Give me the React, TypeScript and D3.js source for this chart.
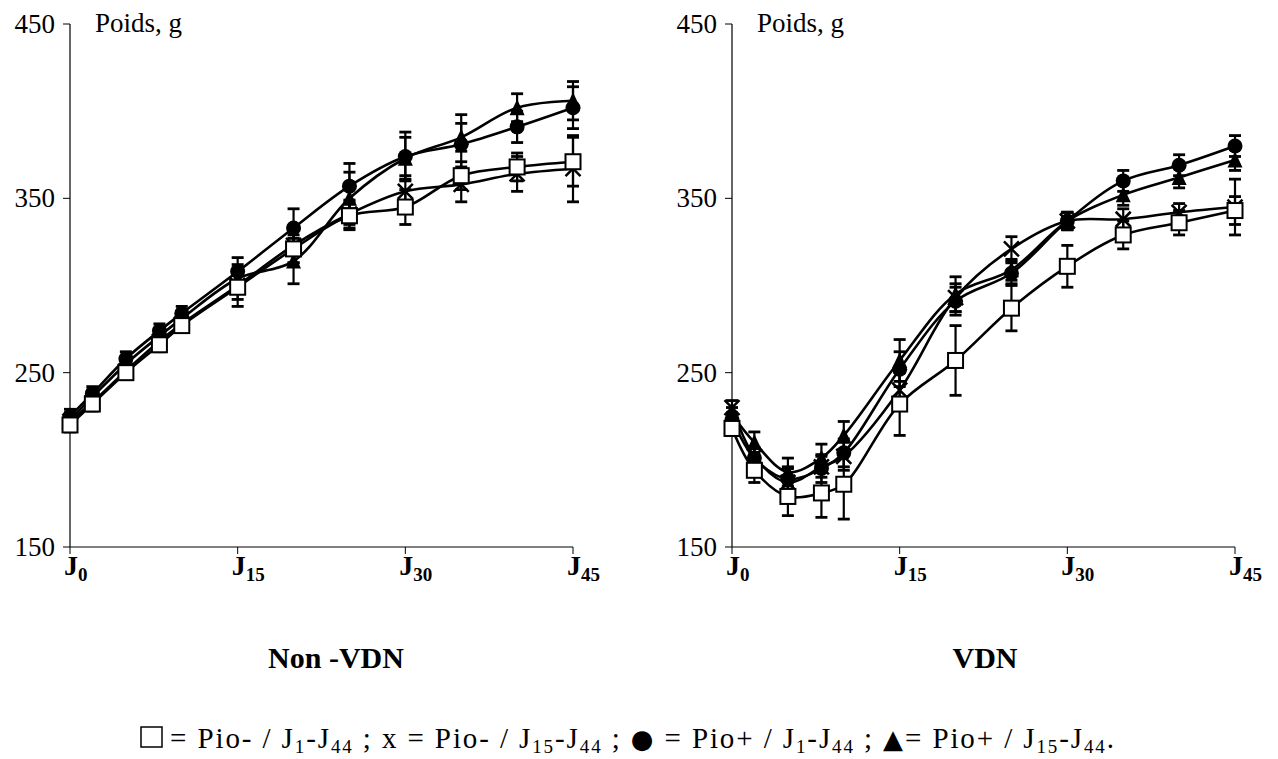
import React from "react";
import * as d3 from "d3";

// days sampled
const days = [0, 2, 5, 8, 10, 15, 20, 25, 30, 35, 40, 45];
const yTicks = [150, 250, 350, 450];
const xTicks = [0, 15, 30, 45];

// Non-VDN
const nvSquare = [220, 232, 250, 266, 277, 299, 321, 340, 345, 363, 368, 371];
const nvCross = [222, 233, 251, 268, 278, 300, 323, 341, 354, 358, 364, 367];
const nvCircle = [225, 238, 258, 274, 284, 308, 333, 357, 374, 381, 391, 402];
const nvTriangle = [223, 236, 255, 271, 281, 304, 314, 350, 373, 385, 402, 406];
const nvSquareErr = [4, 4, 4, 4, 4, 11, 8, 8, 10, 8, 8, 14];
const nvCrossErr = [4, 4, 4, 4, 4, 8, 10, 8, 9, 10, 10, 19];
const nvCircleErr = [4, 4, 4, 4, 4, 8, 11, 13, 14, 17, 9, 12];
const nvTriangleErr = [4, 4, 4, 4, 4, 8, 13, 15, 12, 8, 8, 11];

// VDN
const vSquare = [218, 194, 179, 181, 186, 232, 257, 287, 311, 329, 336, 343];
const vCross = [230, 202, 187, 196, 202, 240, 293, 321, 337, 338, 342, 345];
const vCircle = [223, 201, 189, 195, 204, 252, 291, 307, 337, 360, 369, 380];
const vTriangle = [226, 210, 193, 201, 214, 257, 295, 309, 337, 352, 362, 372];
const vSquareErr = [4, 7, 11, 14, 20, 18, 20, 13, 12, 8, 7, 8];
const vCrossErr = [4, 5, 8, 6, 8, 10, 8, 7, 5, 6, 5, 16];
const vCircleErr = [4, 6, 7, 8, 8, 10, 8, 6, 5, 6, 6, 6];
const vTriangleErr = [4, 6, 8, 8, 8, 12, 10, 6, 5, 6, 6, 6];

const serif = "Liberation Serif, DejaVu Serif, serif";

type Series = { kind: string; values: number[]; err: number[] };

function Marker({ kind, x, y }: { kind: string; x: number; y: number }) {
  const s = 7.5;
  if (kind === "square")
    return <rect x={x - s} y={y - s} width={2 * s} height={2 * s} fill="#fff" stroke="#000" strokeWidth={2} />;
  if (kind === "circle") return <circle cx={x} cy={y} r={s} fill="#000" />;
  if (kind === "triangle")
    return <path d={`M${x},${y - s - 1}L${x + s},${y + s}L${x - s},${y + s}Z`} fill="#000" />;
  return (
    <path d={`M${x - s},${y - s}L${x + s},${y + s}M${x - s},${y + s}L${x + s},${y - s}`} stroke="#000" strokeWidth={2.5} />
  );
}

function Panel({ x0, series, title, titleX }: { x0: number; series: Series[]; title: string; titleX: number }) {
  const x = d3.scaleLinear().domain([0, 45]).range([x0, x0 + 503]);
  const y = d3.scaleLinear().domain([150, 450]).range([547, 24]);
  const line = d3
    .line<number>()
    .x((_, i) => x(days[i]))
    .y((v) => y(v))
    .curve(d3.curveCatmullRom.alpha(0.5));

  return (
    <g style={{ fontFamily: serif }}>
      {/* axes */}
      <line x1={x0} x2={x0} y1={y(450)} y2={y(150)} stroke="#000" strokeWidth={1.2} />
      <line x1={x0} x2={x(45)} y1={y(150)} y2={y(150)} stroke="#000" strokeWidth={1.2} />
      {yTicks.map((t) => (
        <g key={t}>
          <line x1={x0 - 7} x2={x0} y1={y(t)} y2={y(t)} stroke="#000" strokeWidth={1} />
          <text x={x0 - 15} y={y(t) + 9} textAnchor="end" fontSize={27}>
            {t}
          </text>
        </g>
      ))}
      {xTicks.map((t) => (
        <g key={t}>
          <line x1={x(t)} x2={x(t)} y1={y(150)} y2={y(150) + 7} stroke="#000" strokeWidth={1} />
          <text x={x(t) - 6} y={575} fontSize={28} fontWeight="bold">
            J<tspan fontSize={19} dy={6}>{t}</tspan>
          </text>
        </g>
      ))}
      <text x={x0 + 25} y={32} fontSize={27}>
        Poids, g
      </text>

      {/* lines */}
      {series.map((s) => (
        <path key={s.kind} d={line(s.values) || ""} fill="none" stroke="#000" strokeWidth={2.6} />
      ))}
      {/* error bars */}
      {series.map((s) =>
        s.values.map((v, i) => {
          const cx = x(days[i]);
          const top = y(v + s.err[i]);
          const bot = y(v - s.err[i]);
          return (
            <g key={s.kind + i} stroke="#000" strokeWidth={2.2}>
              <line x1={cx} x2={cx} y1={top} y2={bot} />
              <line x1={cx - 6} x2={cx + 6} y1={top} y2={top} strokeWidth={2.8} />
              <line x1={cx - 6} x2={cx + 6} y1={bot} y2={bot} strokeWidth={2.8} />
            </g>
          );
        })
      )}
      {/* markers */}
      {series.map((s) =>
        s.values.map((v, i) => <Marker key={s.kind + "m" + i} kind={s.kind} x={x(days[i])} y={y(v)} />)
      )}

      <text x={titleX} y={668} textAnchor="middle" fontSize={30} fontWeight="bold">
        {title}
      </text>
    </g>
  );
}

export default function App() {
  const left: Series[] = [
    { kind: "triangle", values: nvTriangle, err: nvTriangleErr },
    { kind: "circle", values: nvCircle, err: nvCircleErr },
    { kind: "cross", values: nvCross, err: nvCrossErr },
    { kind: "square", values: nvSquare, err: nvSquareErr },
  ];
  const right: Series[] = [
    { kind: "triangle", values: vTriangle, err: vTriangleErr },
    { kind: "circle", values: vCircle, err: vCircleErr },
    { kind: "cross", values: vCross, err: vCrossErr },
    { kind: "square", values: vSquare, err: vSquareErr },
  ];
  const sub = { fontSize: 19, dy: 5 };
  return (
    <svg width={1278} height={759} style={{ position: "absolute", left: 0, top: 0, background: "#fff" }}>
      <Panel x0={70} series={left} title="Non -VDN" titleX={336} />
      <Panel x0={732} series={right} title="VDN" titleX={985} />
      <rect x={141} y={727} width={21} height={20} fill="none" stroke="#000" strokeWidth={1.5} />
      <text x={170} y={748} style={{ fontFamily: serif }} fontSize={29} textLength={944} lengthAdjust="spacing">
        <tspan>= Pio- / J</tspan>
        <tspan {...sub}>1</tspan>
        <tspan dy={-5}>-J</tspan>
        <tspan {...sub}>44</tspan>
        <tspan dy={-5}> ; x = Pio- / J</tspan>
        <tspan {...sub}>15</tspan>
        <tspan dy={-5}>-J</tspan>
        <tspan {...sub}>44</tspan>
        <tspan dy={-5}> ; </tspan>
        <tspan style={{ fontFamily: "DejaVu Sans" }} fontSize={26}>●</tspan>
        <tspan> = Pio+ / J</tspan>
        <tspan {...sub}>1</tspan>
        <tspan dy={-5}>-J</tspan>
        <tspan {...sub}>44</tspan>
        <tspan dy={-5}> ;  </tspan>
        <tspan style={{ fontFamily: "DejaVu Sans" }} fontSize={26}>▲</tspan>
        <tspan>= Pio+ / J</tspan>
        <tspan {...sub}>15</tspan>
        <tspan dy={-5}>-J</tspan>
        <tspan {...sub}>44</tspan>
        <tspan dy={-5}>.</tspan>
      </text>
    </svg>
  );
}
